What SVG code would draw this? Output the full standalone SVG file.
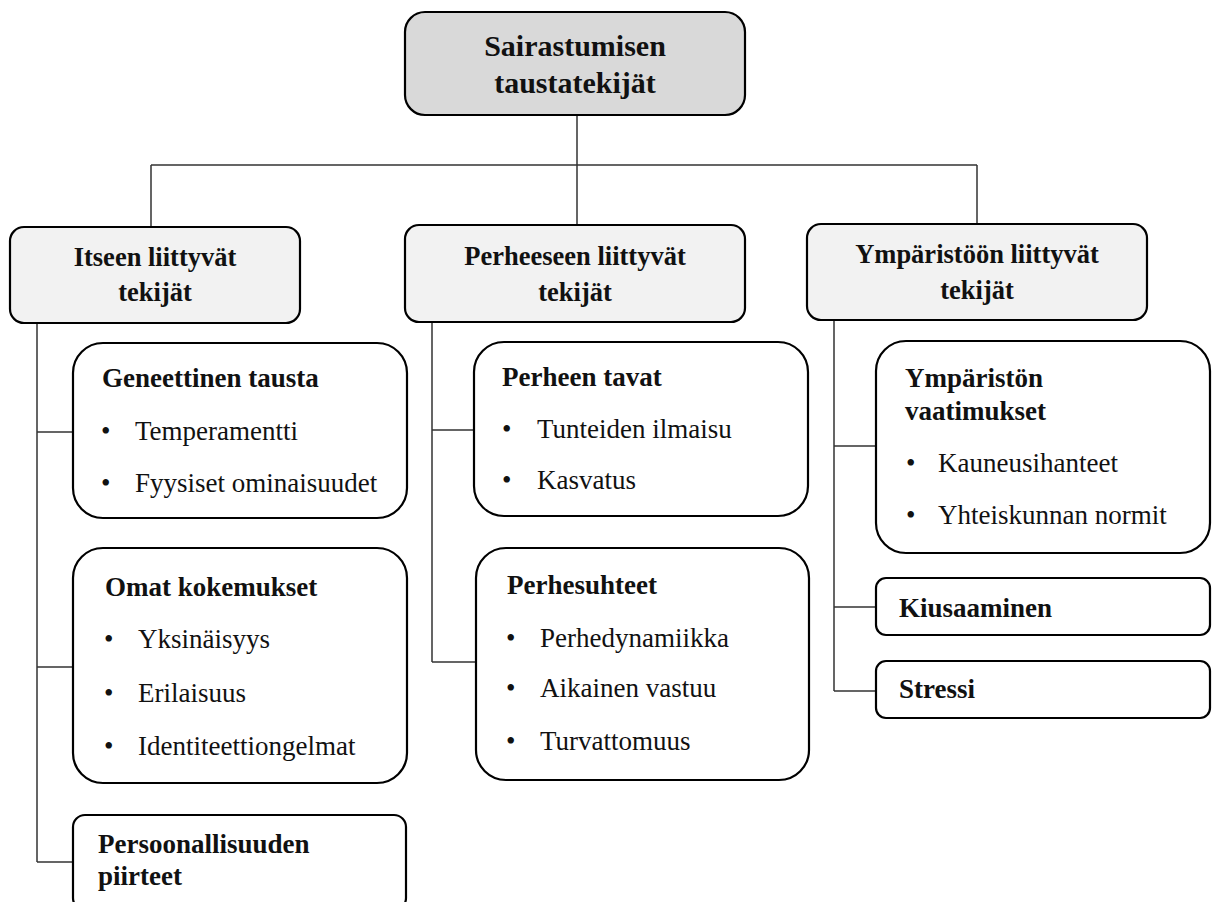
<svg xmlns="http://www.w3.org/2000/svg" width="1213" height="902" viewBox="0 0 1213 902">
  <style>
    .box { fill: #ffffff; stroke: #000000; stroke-width: 2.2; }
    .root { fill: #d9d9d9; }
    .cat { fill: #f2f2f2; }
    .conn { fill: none; stroke: #333333; stroke-width: 1.5; }
    text { font-family: "Liberation Serif", "Times New Roman", serif; fill: #111111; }
    .t-root { font-size: 30px; font-weight: bold; text-anchor: middle; }
    .t-cat { font-size: 26.5px; font-weight: bold; text-anchor: middle; }
    .t-head { font-size: 27px; font-weight: bold; }
    .t-item { font-size: 27px; }
  </style>

  <rect width="1213" height="902" fill="#ffffff"/>

  <!-- connectors -->
  <g id="connectors">
    <path class="conn" d="M577 115 V165 M151 165 H977 M151 165 V227 M577 165 V225 M977 165 V224"/>
    <path class="conn" d="M37 323 V862 M37 432 H73 M37 667 H73 M37 862 H73"/>
    <path class="conn" d="M432 322 V662 M432 430 H474 M432 662 H476"/>
    <path class="conn" d="M834 320 V691 M834 446 H876 M834 607 H876 M834 691 H876"/>
  </g>

  <!-- root -->
  <g id="root">
    <rect class="box root" x="405" y="12" width="340" height="103" rx="20"/>
    <text class="t-root" x="575" y="56">Sairastumisen</text>
    <text class="t-root" x="575" y="93">taustatekijät</text>
  </g>

  <!-- categories -->
  <g id="cat-itse">
    <rect class="box cat" x="10" y="227" width="290" height="96" rx="14"/>
    <text class="t-cat" x="155" y="266">Itseen liittyvät</text>
    <text class="t-cat" x="155" y="301">tekijät</text>
  </g>
  <g id="cat-perhe">
    <rect class="box cat" x="405" y="225" width="340" height="97" rx="14"/>
    <text class="t-cat" x="575" y="265">Perheeseen liittyvät</text>
    <text class="t-cat" x="575" y="301">tekijät</text>
  </g>
  <g id="cat-ymparisto">
    <rect class="box cat" x="807" y="224" width="340" height="96" rx="14"/>
    <text class="t-cat" x="977" y="263">Ympäristöön liittyvät</text>
    <text class="t-cat" x="977" y="299">tekijät</text>
  </g>

  <!-- Itseen liittyvät -->
  <g id="geneettinen">
    <rect class="box" x="73" y="343" width="334" height="175" rx="30"/>
    <text class="t-head" x="102" y="387">Geneettinen tausta</text>
    <text class="t-item" x="101" y="440">•</text>
    <text class="t-item" x="135" y="440">Temperamentti</text>
    <text class="t-item" x="101" y="492">•</text>
    <text class="t-item" x="135" y="492">Fyysiset ominaisuudet</text>
  </g>
  <g id="omat">
    <rect class="box" x="73" y="548" width="334" height="235" rx="30"/>
    <text class="t-head" x="105" y="596">Omat kokemukset</text>
    <text class="t-item" x="104" y="648">•</text>
    <text class="t-item" x="138" y="648">Yksinäisyys</text>
    <text class="t-item" x="104" y="702">•</text>
    <text class="t-item" x="138" y="702">Erilaisuus</text>
    <text class="t-item" x="104" y="755">•</text>
    <text class="t-item" x="138" y="755">Identiteettiongelmat</text>
  </g>
  <g id="persoonallisuus">
    <rect class="box" x="73" y="815" width="333" height="95" rx="12"/>
    <text class="t-head" x="98" y="853">Persoonallisuuden</text>
    <text class="t-head" x="98" y="885">piirteet</text>
  </g>

  <!-- Perheeseen liittyvät -->
  <g id="perheen-tavat">
    <rect class="box" x="474" y="342" width="334" height="174" rx="30"/>
    <text class="t-head" x="502" y="386">Perheen tavat</text>
    <text class="t-item" x="502" y="438">•</text>
    <text class="t-item" x="537" y="438">Tunteiden ilmaisu</text>
    <text class="t-item" x="502" y="489">•</text>
    <text class="t-item" x="537" y="489">Kasvatus</text>
  </g>
  <g id="perhesuhteet">
    <rect class="box" x="476" y="548" width="333" height="232" rx="30"/>
    <text class="t-head" x="507" y="594">Perhesuhteet</text>
    <text class="t-item" x="506" y="647">•</text>
    <text class="t-item" x="540" y="647">Perhedynamiikka</text>
    <text class="t-item" x="506" y="697">•</text>
    <text class="t-item" x="540" y="697">Aikainen vastuu</text>
    <text class="t-item" x="506" y="750">•</text>
    <text class="t-item" x="540" y="750">Turvattomuus</text>
  </g>

  <!-- Ympäristöön liittyvät -->
  <g id="vaatimukset">
    <rect class="box" x="876" y="341" width="334" height="212" rx="30"/>
    <text class="t-head" x="905" y="387">Ympäristön</text>
    <text class="t-head" x="905" y="420">vaatimukset</text>
    <text class="t-item" x="906" y="472">•</text>
    <text class="t-item" x="938" y="472">Kauneusihanteet</text>
    <text class="t-item" x="906" y="524">•</text>
    <text class="t-item" x="938" y="524">Yhteiskunnan normit</text>
  </g>
  <g id="kiusaaminen">
    <rect class="box" x="876" y="578" width="334" height="57" rx="10"/>
    <text class="t-head" x="899" y="617">Kiusaaminen</text>
  </g>
  <g id="stressi">
    <rect class="box" x="876" y="661" width="334" height="57" rx="10"/>
    <text class="t-head" x="899" y="698">Stressi</text>
  </g>
</svg>
